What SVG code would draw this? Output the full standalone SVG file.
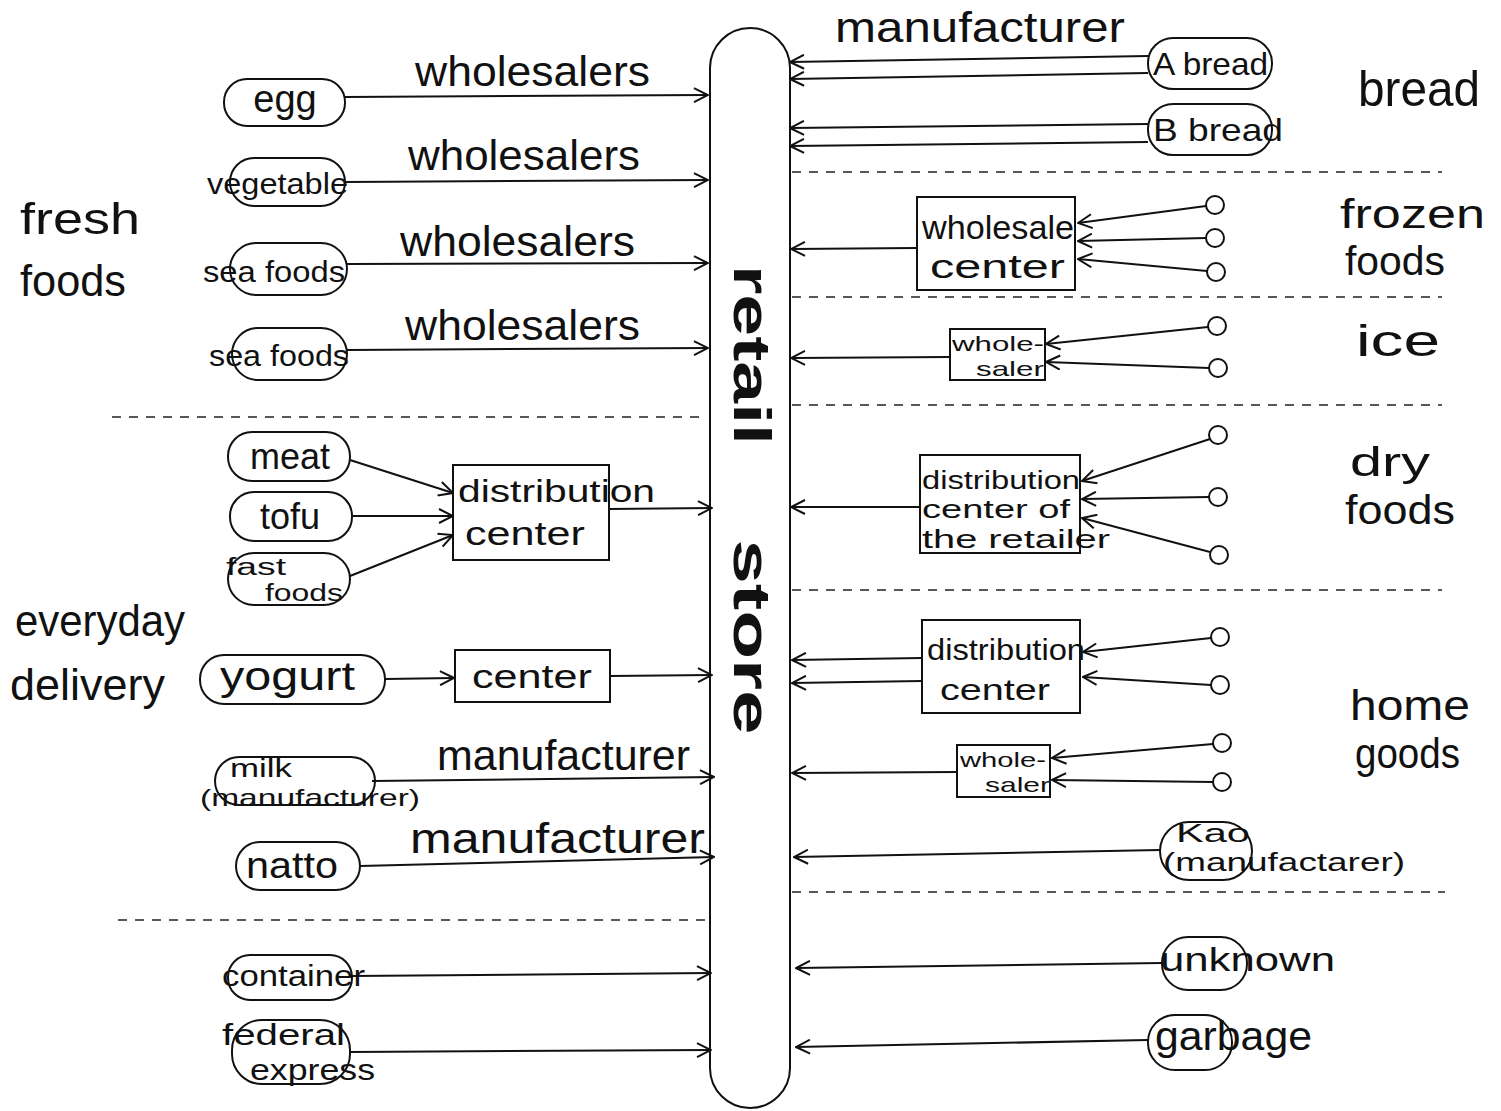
<svg xmlns="http://www.w3.org/2000/svg" width="1501" height="1111" viewBox="0 0 1501 1111">
<style>
.n{fill:none;stroke:#111;stroke-width:2}
.e{fill:none;stroke:#111;stroke-width:2;marker-end:url(#ah)}
.d{fill:none;stroke:#222;stroke-width:1.6;stroke-dasharray:9 8}
text{font-family:"Liberation Sans","Noto Sans",sans-serif;fill:#111}
.m{text-anchor:middle}
</style>
<defs>
<marker id="ah" markerUnits="userSpaceOnUse" markerWidth="16" markerHeight="16" viewBox="0 0 16 16" refX="15" refY="8" orient="auto">
<path d="M1,1 L15,8 L1,15" fill="none" stroke="#111" stroke-width="2"/>
</marker>
</defs>
<rect width="1501" height="1111" fill="#fff"/>

<!-- separators -->
<g id="separators">
<path class="d" d="M112,417 H705"/>
<path class="d" d="M118,920 H705"/>
<path class="d" d="M792,172 H1442"/>
<path class="d" d="M792,297 H1442"/>
<path class="d" d="M792,405 H1442"/>
<path class="d" d="M792,590 H1442"/>
<path class="d" d="M792,892 H1445"/>
</g>

<!-- category labels -->
<g id="categories" font-size="44">
<text x="20" y="234" textLength="120" lengthAdjust="spacingAndGlyphs">fresh</text>
<text x="20" y="296" textLength="106" lengthAdjust="spacingAndGlyphs">foods</text>
<text x="15" y="636" textLength="170" lengthAdjust="spacingAndGlyphs">everyday</text>
<text x="10" y="700" textLength="155" lengthAdjust="spacingAndGlyphs">delivery</text>
<text x="1358" y="106" font-size="50" textLength="122" lengthAdjust="spacingAndGlyphs">bread</text>
<text x="1340" y="228" font-size="41" textLength="145" lengthAdjust="spacingAndGlyphs">frozen</text>
<text x="1345" y="275" font-size="41" textLength="100" lengthAdjust="spacingAndGlyphs">foods</text>
<text x="1356" y="356" textLength="84" lengthAdjust="spacingAndGlyphs">ice</text>
<text x="1350" y="476" font-size="41" textLength="80" lengthAdjust="spacingAndGlyphs">dry</text>
<text x="1345" y="524" font-size="41" textLength="110" lengthAdjust="spacingAndGlyphs">foods</text>
<text x="1350" y="720" font-size="42" textLength="120" lengthAdjust="spacingAndGlyphs">home</text>
<text x="1355" y="768" font-size="42" textLength="105" lengthAdjust="spacingAndGlyphs">goods</text>
</g>

<!-- central node -->
<g id="retail-store">
<rect class="n" x="710" y="28" width="80" height="1080" rx="40"/>
<text font-size="52" font-weight="bold" class="m" dominant-baseline="central" transform="translate(752,355) rotate(90)" textLength="180" lengthAdjust="spacingAndGlyphs">retail</text>
<text font-size="52" font-weight="bold" class="m" dominant-baseline="central" transform="translate(752,637) rotate(90)" textLength="195" lengthAdjust="spacingAndGlyphs">store</text>
</g>

<!-- left nodes -->
<g id="egg"><rect class="n" x="224" y="79" width="121" height="47" rx="23"/><text x="285" y="112" font-size="38" class="m">egg</text></g>
<g id="vegetable"><rect class="n" x="230" y="158" width="115" height="48" rx="24"/><text x="207" y="194" font-size="30" textLength="141" lengthAdjust="spacingAndGlyphs">vegetable</text></g>
<g id="seafoods1"><rect class="n" x="230" y="243" width="117" height="52" rx="26"/><text x="203" y="282" font-size="30" textLength="142" lengthAdjust="spacingAndGlyphs">sea foods</text></g>
<g id="seafoods2"><rect class="n" x="232" y="328" width="115" height="52" rx="26"/><text x="209" y="366" font-size="30" textLength="140" lengthAdjust="spacingAndGlyphs">sea foods</text></g>
<g id="meat"><rect class="n" x="228" y="432" width="122" height="49" rx="24"/><text x="290" y="469" font-size="36" class="m">meat</text></g>
<g id="tofu"><rect class="n" x="230" y="492" width="122" height="49" rx="24"/><text x="290" y="529" font-size="36" class="m">tofu</text></g>
<g id="fastfoods"><rect class="n" x="228" y="553" width="122" height="52" rx="26"/><text x="226" y="575" font-size="23" textLength="60" lengthAdjust="spacingAndGlyphs">fast</text><text x="265" y="601" font-size="23" textLength="78" lengthAdjust="spacingAndGlyphs">foods</text></g>
<g id="distribution-center-left"><rect class="n" x="453" y="465" width="156" height="95"/><text x="458" y="502" font-size="32" textLength="197" lengthAdjust="spacingAndGlyphs">distribution</text><text x="465" y="545" font-size="34" textLength="120" lengthAdjust="spacingAndGlyphs">center</text></g>
<g id="yogurt"><rect class="n" x="200" y="655" width="185" height="49" rx="24"/><text x="220" y="690" font-size="40" textLength="135" lengthAdjust="spacingAndGlyphs">yogurt</text></g>
<g id="center-yogurt"><rect class="n" x="455" y="650" width="155" height="52"/><text x="472" y="688" font-size="34" textLength="120" lengthAdjust="spacingAndGlyphs">center</text></g>
<g id="milk"><rect class="n" x="215" y="757" width="160" height="48" rx="24"/><text x="230" y="777" font-size="26" textLength="62" lengthAdjust="spacingAndGlyphs">milk</text><text x="200" y="806" font-size="24" textLength="220" lengthAdjust="spacingAndGlyphs">(manufacturer)</text></g>
<g id="natto"><rect class="n" x="236" y="842" width="124" height="48" rx="24"/><text x="246" y="878" font-size="36" textLength="92" lengthAdjust="spacingAndGlyphs">natto</text></g>
<g id="container"><rect class="n" x="228" y="955" width="124" height="45" rx="22"/><text x="222" y="986" font-size="30" textLength="143" lengthAdjust="spacingAndGlyphs">container</text></g>
<g id="federal-express"><rect class="n" x="232" y="1020" width="118" height="64" rx="30"/><text x="222" y="1045" font-size="29" textLength="123" lengthAdjust="spacingAndGlyphs">federal</text><text x="250" y="1080" font-size="29" textLength="125" lengthAdjust="spacingAndGlyphs">express</text></g>

<!-- right nodes -->
<g id="a-bread"><rect class="n" x="1148" y="38" width="124" height="51" rx="25"/><text x="1153" y="75" font-size="32" textLength="115" lengthAdjust="spacingAndGlyphs">A bread</text></g>
<g id="b-bread"><rect class="n" x="1148" y="104" width="124" height="51" rx="25"/><text x="1153" y="141" font-size="32" textLength="130" lengthAdjust="spacingAndGlyphs">B bread</text></g>
<g id="wholesale-center"><rect class="n" x="917" y="197" width="158" height="93"/><text x="922" y="239" font-size="33" textLength="152" lengthAdjust="spacingAndGlyphs">wholesale</text><text x="930" y="278" font-size="34" textLength="135" lengthAdjust="spacingAndGlyphs">center</text></g>
<g id="wholesaler-ice"><rect class="n" x="950" y="329" width="95" height="51"/><text x="952" y="351" font-size="21" textLength="92" lengthAdjust="spacingAndGlyphs">whole-</text><text x="976" y="376" font-size="21" textLength="68" lengthAdjust="spacingAndGlyphs">saler</text></g>
<g id="distribution-center-retailer"><rect class="n" x="920" y="455" width="160" height="98"/><text x="922" y="489" font-size="25" textLength="158" lengthAdjust="spacingAndGlyphs">distribution</text><text x="922" y="518" font-size="25" textLength="148" lengthAdjust="spacingAndGlyphs">center of</text><text x="922" y="548" font-size="25" textLength="188" lengthAdjust="spacingAndGlyphs">the retailer</text></g>
<g id="distribution-center-right"><rect class="n" x="922" y="620" width="158" height="93"/><text x="927" y="660" font-size="30" textLength="158" lengthAdjust="spacingAndGlyphs">distribution</text><text x="940" y="700" font-size="30" textLength="110" lengthAdjust="spacingAndGlyphs">center</text></g>
<g id="wholesaler-home"><rect class="n" x="957" y="745" width="93" height="52"/><text x="960" y="767" font-size="21" textLength="86" lengthAdjust="spacingAndGlyphs">whole-</text><text x="985" y="792" font-size="21" textLength="65" lengthAdjust="spacingAndGlyphs">saler</text></g>
<g id="kao"><rect class="n" x="1160" y="822" width="92" height="58" rx="29"/><text x="1176" y="842" font-size="26" textLength="74" lengthAdjust="spacingAndGlyphs">Kao</text><text x="1163" y="871" font-size="26" textLength="242" lengthAdjust="spacingAndGlyphs">(manufactarer)</text></g>
<g id="unknown"><rect class="n" x="1162" y="937" width="85" height="53" rx="26"/><text x="1160" y="971" font-size="34" textLength="175" lengthAdjust="spacingAndGlyphs">unknown</text></g>
<g id="garbage"><rect class="n" x="1148" y="1015" width="84" height="55" rx="27"/><text x="1155" y="1050" font-size="40" textLength="157" lengthAdjust="spacingAndGlyphs">garbage</text></g>

<!-- source circles -->
<g id="sources">
<circle id="f1" class="n" cx="1215" cy="205" r="9"/>
<circle id="f2" class="n" cx="1215" cy="238" r="9"/>
<circle id="f3" class="n" cx="1216" cy="272" r="9"/>
<circle id="i1" class="n" cx="1217" cy="326" r="9"/>
<circle id="i2" class="n" cx="1218" cy="368" r="9"/>
<circle id="d1" class="n" cx="1218" cy="435" r="9"/>
<circle id="d2" class="n" cx="1218" cy="497" r="9"/>
<circle id="d3" class="n" cx="1219" cy="555" r="9"/>
<circle id="h1" class="n" cx="1220" cy="637" r="9"/>
<circle id="h2" class="n" cx="1220" cy="685" r="9"/>
<circle id="h3" class="n" cx="1222" cy="743" r="9"/>
<circle id="h4" class="n" cx="1222" cy="782" r="9"/>
</g>

<!-- connectors -->
<g id="connectors">
<path class="e" d="M345,97 L708,95"/>
<path class="e" d="M345,182 L708,180"/>
<path class="e" d="M347,264 L708,263"/>
<path class="e" d="M347,350 L708,348"/>
<path class="e" d="M350,460 L453,493"/>
<path class="e" d="M352,516 L453,516"/>
<path class="e" d="M350,576 L453,535"/>
<path class="e" d="M609,509 L712,508"/>
<path class="e" d="M385,679 L454,678"/>
<path class="e" d="M610,676 L712,675"/>
<path class="e" d="M372,781 L714,777"/>
<path class="e" d="M360,866 L714,857"/>
<path class="e" d="M352,976 L711,973"/>
<path class="e" d="M350,1052 L711,1050"/>

<path class="e" d="M1148,56 L790,62"/>
<path class="e" d="M1148,73 L790,79"/>
<path class="e" d="M1148,124 L790,128"/>
<path class="e" d="M1148,142 L790,146"/>
<path class="e" d="M1206,206 L1078,223"/>
<path class="e" d="M1206,238 L1078,241"/>
<path class="e" d="M1207,271 L1078,259"/>
<path class="e" d="M917,248 L791,249"/>
<path class="e" d="M1208,327 L1046,344"/>
<path class="e" d="M1209,368 L1046,362"/>
<path class="e" d="M950,357 L791,358"/>
<path class="e" d="M1210,439 L1082,481"/>
<path class="e" d="M1209,497 L1082,499"/>
<path class="e" d="M1210,552 L1082,518"/>
<path class="e" d="M920,507 L791,507"/>
<path class="e" d="M1211,638 L1083,652"/>
<path class="e" d="M1211,685 L1083,677"/>
<path class="e" d="M922,658 L792,660"/>
<path class="e" d="M922,681 L792,683"/>
<path class="e" d="M1213,744 L1052,758"/>
<path class="e" d="M1213,782 L1052,780"/>
<path class="e" d="M957,772 L792,773"/>
<path class="e" d="M1160,850 L794,857"/>
<path class="e" d="M1162,963 L796,968"/>
<path class="e" d="M1148,1040 L796,1047"/>
</g>

<!-- edge labels -->
<g id="edge-labels" font-size="42">
<text x="415" y="86" textLength="235" lengthAdjust="spacingAndGlyphs">wholesalers</text>
<text x="408" y="170" textLength="232" lengthAdjust="spacingAndGlyphs">wholesalers</text>
<text x="400" y="256" textLength="235" lengthAdjust="spacingAndGlyphs">wholesalers</text>
<text x="405" y="340" textLength="235" lengthAdjust="spacingAndGlyphs">wholesalers</text>
<text x="437" y="770" textLength="253" lengthAdjust="spacingAndGlyphs">manufacturer</text>
<text x="410" y="853" textLength="295" lengthAdjust="spacingAndGlyphs">manufacturer</text>
<text x="835" y="42" textLength="290" lengthAdjust="spacingAndGlyphs">manufacturer</text>
</g>
</svg>
